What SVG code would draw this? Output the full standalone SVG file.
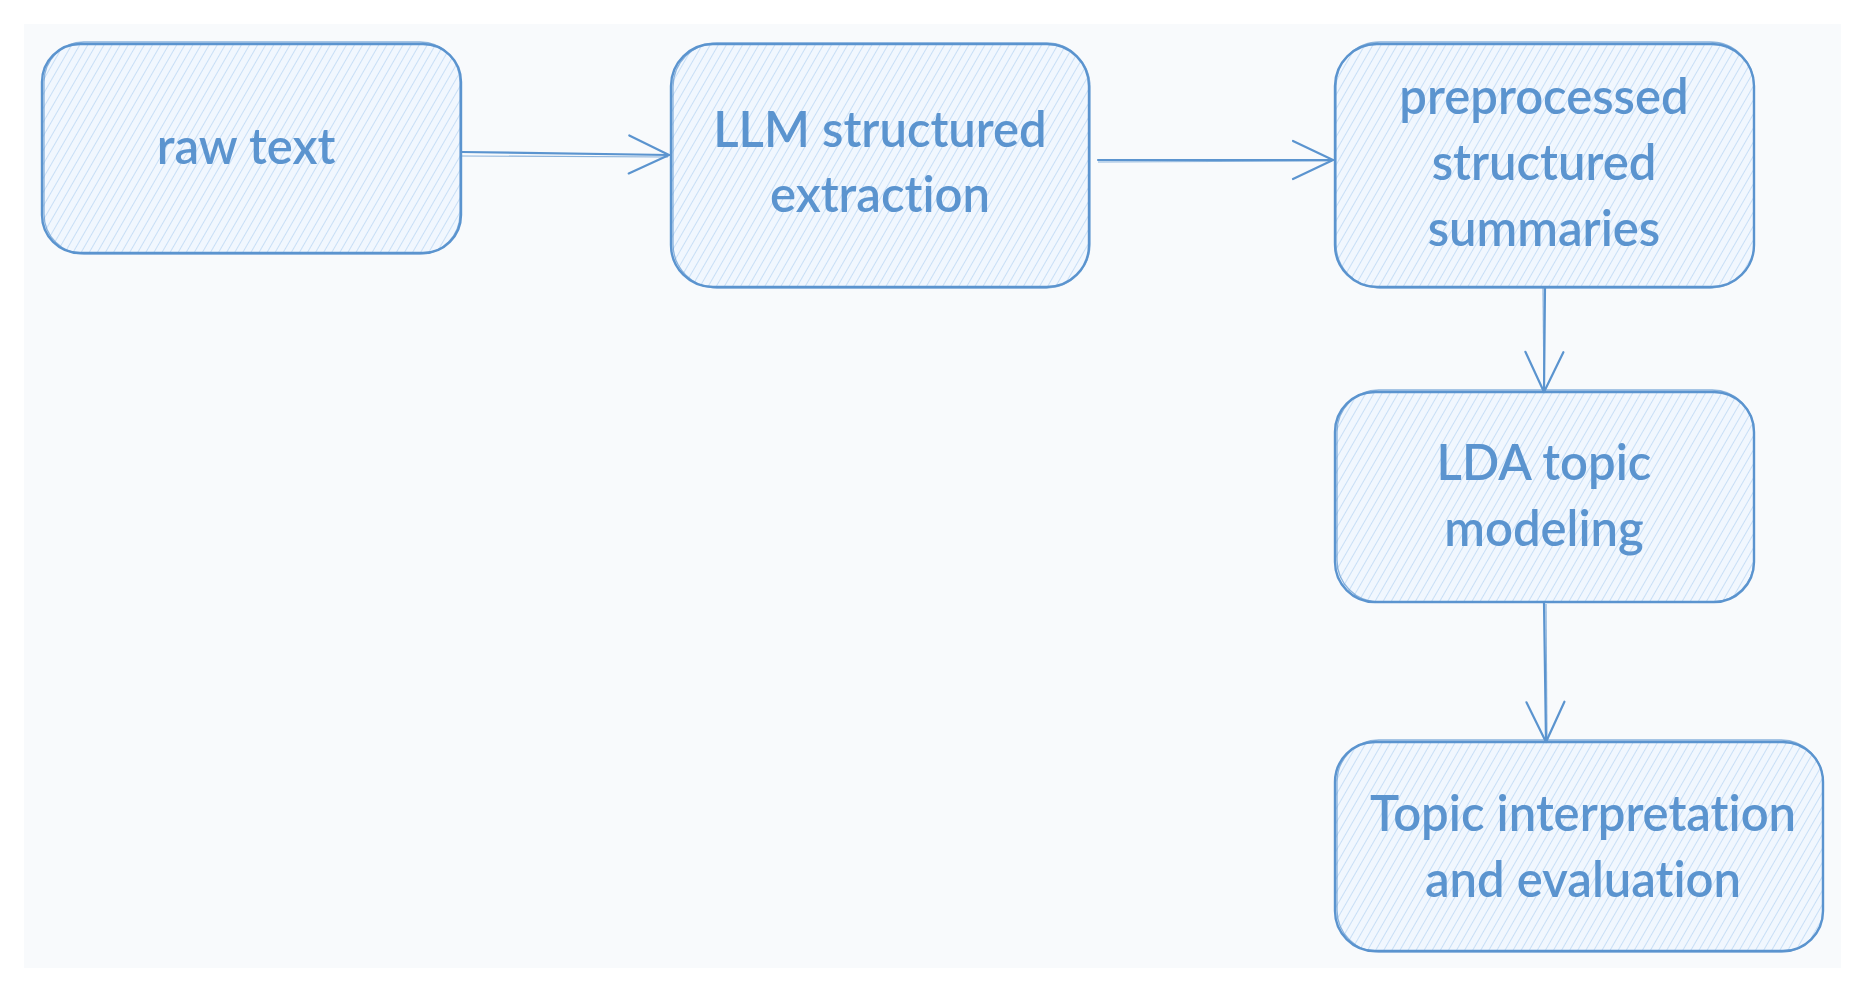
<svg xmlns="http://www.w3.org/2000/svg" width="1862" height="990" viewBox="0 0 1862 990">
<defs>
<pattern id="hatch" width="7" height="7" patternUnits="userSpaceOnUse" patternTransform="rotate(30)">
<line x1="0" y1="0" x2="0" y2="7" stroke="#a3c9ef" stroke-width="1.2" opacity="0.9"/>
</pattern>
<marker id="arr" markerUnits="userSpaceOnUse" markerWidth="60" markerHeight="60" viewBox="-50 -30 60 60" refX="0" refY="0" orient="auto">
<path d="M-40,-19 L0,0 L-40,19" fill="none" stroke="#5b94cf" stroke-width="2.2" stroke-linecap="round" stroke-linejoin="round"/>
</marker>
</defs>
<style>
.box{fill:#f1f7fe;stroke:none}
.hat{fill:url(#hatch);stroke:none}
.edge{fill:none;stroke:#5b94cf;stroke-width:2.4}
.edge2{fill:none;stroke:#5b94cf;stroke-width:1.3;opacity:0.7}
.lbl{font-family:Lato,"Noto Sans",sans-serif;font-size:49px;font-weight:600;fill:#5b94cf;text-anchor:middle;font-variant-ligatures:none;font-feature-settings:"liga" 0,"dlig" 0}
.conn{fill:none;stroke:#5b94cf;stroke-width:2.2;stroke-linecap:round}
.conn2{fill:none;stroke:#5b94cf;stroke-width:1.2;opacity:0.7}
</style>
<rect x="0" y="0" width="1862" height="990" fill="#ffffff"/>
<rect x="24" y="24" width="1817" height="944" fill="#f8fafc"/>

<g id="node-raw-text">
<rect class="box" x="42" y="44" width="419" height="209" rx="38"/>
<rect class="hat" x="42" y="44" width="419" height="209" rx="38"/>
<rect class="edge" x="42" y="44" width="419" height="209" rx="38"/>
<rect class="edge2" x="44" y="42" width="416" height="212" rx="40"/>
<text class="lbl" x="246" y="164">raw text</text>
</g>

<g id="node-llm">
<rect class="box" x="671" y="44" width="418" height="243" rx="42"/>
<rect class="hat" x="671" y="44" width="418" height="243" rx="42"/>
<rect class="edge" x="671" y="44" width="418" height="243" rx="42"/>
<rect class="edge2" x="673" y="43" width="417" height="245" rx="44"/>
<text class="lbl" x="880" y="147">LLM structured</text>
<text class="lbl" x="880" y="212">extraction</text>
</g>

<g id="node-preprocessed">
<rect class="box" x="1335" y="44" width="419" height="243" rx="42"/>
<rect class="hat" x="1335" y="44" width="419" height="243" rx="42"/>
<rect class="edge" x="1335" y="44" width="419" height="243" rx="42"/>
<rect class="edge2" x="1336" y="42" width="418" height="246" rx="44"/>
<text class="lbl" x="1544" y="114">preprocessed</text>
<text class="lbl" x="1544" y="180">structured</text>
<text class="lbl" x="1544" y="246">summaries</text>
</g>

<g id="node-lda">
<rect class="box" x="1335" y="392" width="419" height="210" rx="40"/>
<rect class="hat" x="1335" y="392" width="419" height="210" rx="40"/>
<rect class="edge" x="1335" y="392" width="419" height="210" rx="40"/>
<rect class="edge2" x="1337" y="390" width="417" height="212" rx="42"/>
<text class="lbl" x="1544" y="480">LDA topic</text>
<text class="lbl" x="1544" y="546">modeling</text>
</g>

<g id="node-topic">
<rect class="box" x="1335" y="742" width="488" height="209" rx="40"/>
<rect class="hat" x="1335" y="742" width="488" height="209" rx="40"/>
<rect class="edge" x="1335" y="742" width="488" height="209" rx="40"/>
<rect class="edge2" x="1337" y="740" width="486" height="212" rx="42"/>
<text class="lbl" x="1583" y="831">Topic interpretation</text>
<text class="lbl" x="1583" y="897">and evaluation</text>
</g>

<g id="connectors">
<path class="conn" d="M462,152 L669,155" marker-end="url(#arr)"/>
<path class="conn2" d="M462,156 L668,157"/>
<path class="conn" d="M1098,160 L1333,160" marker-end="url(#arr)"/>
<path class="conn2" d="M1098,162 L1332,161"/>
<path class="conn" d="M1545,287 L1544,392" marker-end="url(#arr)"/>
<path class="conn2" d="M1543,288 L1544,390"/>
<path class="conn" d="M1544,603 L1546,742" marker-end="url(#arr)"/>
<path class="conn2" d="M1546,604 L1547,740"/>
</g>
</svg>
